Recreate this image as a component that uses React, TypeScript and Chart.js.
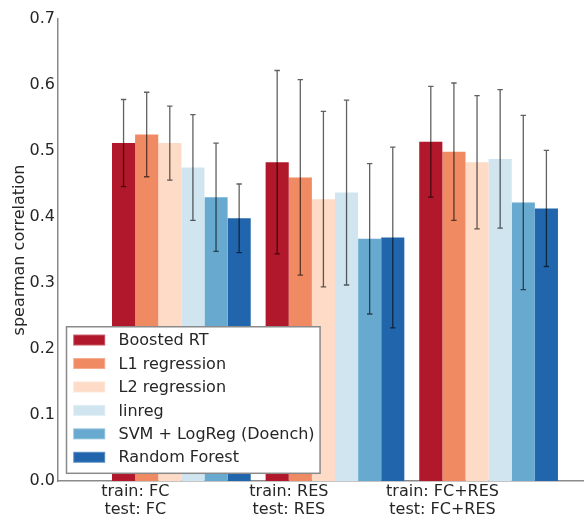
import { useEffect, useRef } from 'react';
import { Chart, registerables } from 'chart.js';

Chart.register(...registerables);

// ---- data ----
const groupLabels: string[][] = [
  ['train: FC', 'test: FC'],
  ['train: RES', 'test: RES'],
  ['train: FC+RES', 'test: FC+RES'],
];
const groupPositions = [0, 1, 2];
const tickPositions = [-0.3, 0.7, 1.7];
const yTicks = [0, 0.1, 0.2, 0.3, 0.4, 0.5, 0.6, 0.7];

const methods = [
  'Boosted RT',
  'L1 regression',
  'L2 regression',
  'linreg',
  'SVM + LogReg (Doench)',
  'Random Forest',
];
const colors = ['#b2182b', '#ef8a62', '#fddbc7', '#d1e5f0', '#67a9cf', '#2166ac'];

const boostedRT = [0.512, 0.483, 0.514];
const boostedRTErr = [0.066, 0.139, 0.084];
const l1Regression = [0.525, 0.46, 0.499];
const l1RegressionErr = [0.064, 0.148, 0.104];
const l2Regression = [0.512, 0.427, 0.483];
const l2RegressionErr = [0.056, 0.133, 0.101];
const linreg = [0.475, 0.437, 0.488];
const linregErr = [0.08, 0.14, 0.105];
const svmLogReg = [0.43, 0.367, 0.422];
const svmLogRegErr = [0.082, 0.114, 0.132];
const randomForest = [0.398, 0.369, 0.413];
const randomForestErr = [0.052, 0.137, 0.088];

const seriesValues = [boostedRT, l1Regression, l2Regression, linreg, svmLogReg, randomForest];
const seriesErrors = [boostedRTErr, l1RegressionErr, l2RegressionErr, linregErr, svmLogRegErr, randomForestErr];

const FONT = '"DejaVu Sans", sans-serif';
const TEXT = '#262626';
const SPINE = '#8a8a8a';

function hexA(hex: string, a: number) {
  const n = parseInt(hex.slice(1), 16);
  return `rgba(${(n >> 16) & 255},${(n >> 8) & 255},${n & 255},${a})`;
}

const overlayPlugin = {
  id: 'errorBarsAndLegend',
  afterDatasetsDraw(chart: any) {
    const ctx = chart.ctx;
    const yScale = chart.scales.y;
    ctx.save();
    // error bars
    ctx.strokeStyle = 'rgba(0,0,0,0.62)';
    ctx.lineWidth = 1.3;
    seriesValues.forEach((vals, i) => {
      const meta = chart.getDatasetMeta(i);
      meta.data.forEach((el: any, j: number) => {
        const v = vals[j];
        const e = seriesErrors[i][j];
        const x = el.x;
        const yt = yScale.getPixelForValue(v + e);
        const yb = yScale.getPixelForValue(v - e);
        ctx.beginPath();
        ctx.moveTo(x, yt);
        ctx.lineTo(x, yb);
        ctx.moveTo(x - 2.7, yt);
        ctx.lineTo(x + 2.7, yt);
        ctx.moveTo(x - 2.7, yb);
        ctx.lineTo(x + 2.7, yb);
        ctx.stroke();
      });
    });

    // legend box
    const { left, bottom } = chart.chartArea;
    ctx.font = `16px ${FONT}`;
    const textW = Math.max(...methods.map((m) => ctx.measureText(m).width));
    const padL = 6.7, sw = 32, swH = 11, gap = 13.3, padR = 5.5;
    const rowH = 23.45, padT = 13.3, padB = 16;
    const w = padL + sw + gap + textW + padR;
    const h = padT + (methods.length - 1) * rowH + padB;
    const x0 = left + 8.5;
    const y1 = bottom - 7.7;
    const y0 = y1 - h;
    ctx.fillStyle = '#ffffff';
    ctx.fillRect(x0, y0, w, h);
    ctx.strokeStyle = SPINE;
    ctx.lineWidth = 1.5;
    ctx.strokeRect(x0, y0, w, h);
    ctx.textBaseline = 'middle';
    ctx.textAlign = 'left';
    methods.forEach((m, i) => {
      const cy = y0 + padT + i * rowH;
      ctx.fillStyle = hexA(colors[i], 0.7);
      ctx.fillRect(x0 + padL, cy - swH / 2, sw, swH);
      ctx.fillStyle = colors[i];
      ctx.fillRect(x0 + padL + 1, cy - swH / 2 + 1, sw - 2, swH - 2);
      ctx.fillStyle = TEXT;
      ctx.fillText(m, x0 + padL + sw + gap, cy + 1);
    });
    ctx.restore();
  },
};

export default function App() {
  const ref = useRef<HTMLCanvasElement | null>(null);
  useEffect(() => {
    if (!ref.current) return;
    const chart = new Chart(ref.current, {
      type: 'bar',
      data: {
        datasets: methods.map((m, i) => ({
          label: m,
          data: groupPositions.map((x, j) => ({ x, y: seriesValues[i][j] })),
          backgroundColor: colors[i],
          borderColor: hexA(colors[i], 0.72),
          borderWidth: 0,
          categoryPercentage: 0.903,
          barPercentage: 1,
        })),
      },
      options: {
        responsive: false,
        animation: false,
        devicePixelRatio: 1,
        layout: { padding: { top: 19, right: 0, left: 0, bottom: 0 } },
        plugins: {
          legend: { display: false },
          tooltip: { enabled: false },
        },
        scales: {
          x: {
            type: 'linear',
            min: -0.803,
            max: 2.621,
            offset: false,
            z: 1,
            grid: { display: false, drawTicks: false, offset: false },
            border: { display: true, color: SPINE, width: 1.5 },
            afterBuildTicks: (scale: any) => {
              scale.ticks = tickPositions.map((v) => ({ value: v }));
            },
            afterFit: (scale: any) => {
              scale.height = 37;
            },
            ticks: {
              autoSkip: false,
              maxRotation: 0,
              minRotation: 0,
              padding: 1.5,
              color: TEXT,
              font: { family: FONT, size: 16, lineHeight: 1.15 },
              callback: (_v: any, i: number) => groupLabels[i],
            },
          },
          y: {
            type: 'linear',
            min: 0,
            max: 0.7,
            grid: { display: false, drawTicks: false },
            border: { display: true, color: SPINE, width: 1.5 },
            afterBuildTicks: (scale: any) => {
              scale.ticks = yTicks.map((v) => ({ value: v }));
            },
            afterFit: (scale: any) => {
              scale.width = 58;
            },
            ticks: {
              padding: 3,
              color: TEXT,
              font: { family: FONT, size: 16 },
              callback: (v: any) => Number(v).toFixed(1),
            },
            title: {
              display: true,
              text: 'spearman correlation',
              color: TEXT,
              font: { family: FONT, size: 16, lineHeight: 1.2 },
              padding: { top: 10, bottom: 0 },
            },
          },
        },
      },
      plugins: [overlayPlugin],
    } as any);
    return () => chart.destroy();
  }, []);
  return (
    <div style={{ position: 'absolute', left: 0, top: 0, width: 584, height: 518, background: '#fff' }}>
      <canvas ref={ref} width={584} height={518} style={{ display: 'block' }} />
    </div>
  );
}
